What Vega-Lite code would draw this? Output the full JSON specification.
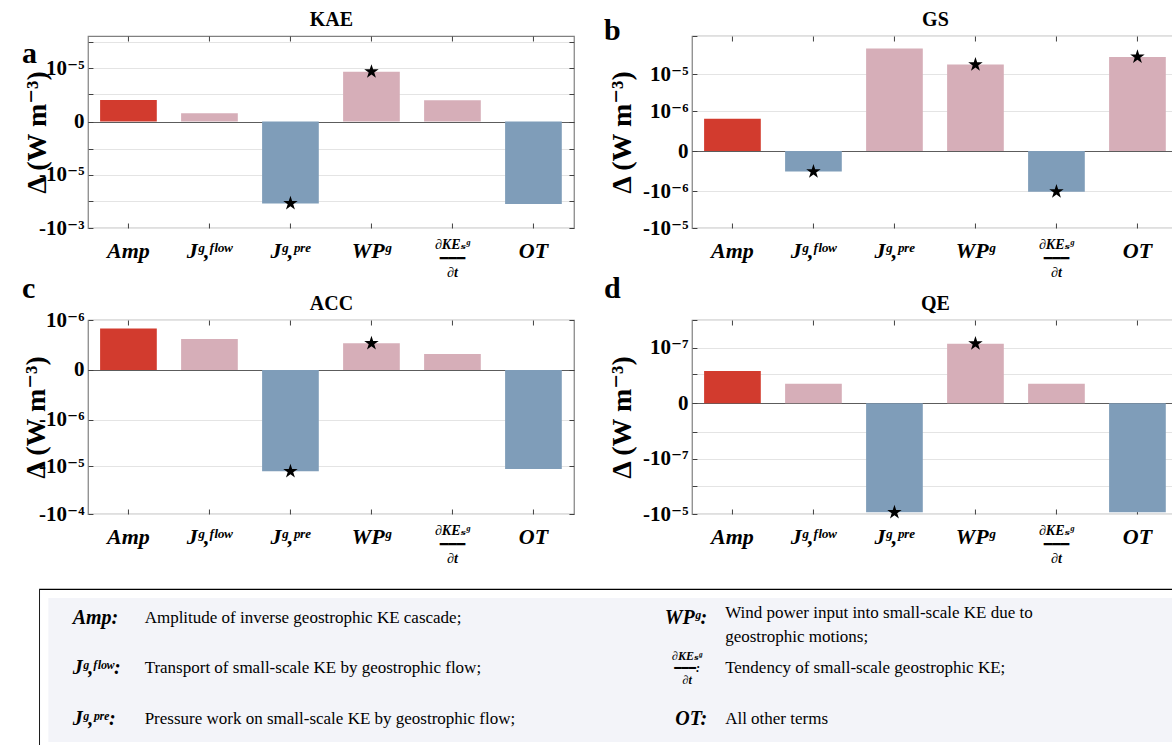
{
  "$schema": "https://vega.github.io/schema/vega-lite/v6.json",
  "background": "white",
  "padding": {"left": 21, "top": 8, "right": 0, "bottom": 0},
  "config": {
    "view": {"stroke": "#808080", "strokeWidth": 1.2},
    "font": "Liberation Serif",
    "axis": {
      "labelFont": "Liberation Serif, DejaVu Serif",
      "labelColor": "black",
      "labelFontWeight": "bold",
      "titleFont": "Liberation Serif, DejaVu Serif",
      "titleColor": "black",
      "titleFontWeight": "bold",
      "tickColor": "#404040",
      "tickSize": -5,
      "domain": false,
      "grid": false,
      "labelOverlap": false
    },
    "title": {"font": "Liberation Serif", "fontWeight": "bold", "fontSize": 30, "color": "black", "anchor": "start", "frame": "group"}
  },
  "datasets": {
    "bars": [
      {"panel": "KAE", "term": "Amp", "value": 5.5e-7, "star": false},
      {"panel": "KAE", "term": "Jᵍ,ᶠˡᵒʷ", "value": 1.07e-7, "star": false},
      {"panel": "KAE", "term": "Jᵍ,ᵖʳᵉ", "value": -1.19e-4, "star": true},
      {"panel": "KAE", "term": "WPᵍ", "value": 7.4e-6, "star": true},
      {"panel": "KAE", "term": "∂KEₛᵍ/∂t", "value": 5.35e-7, "star": false},
      {"panel": "KAE", "term": "OT", "value": -1.26e-4, "star": false},
      {"panel": "GS", "term": "Amp", "value": 6.0e-7, "star": false},
      {"panel": "GS", "term": "Jᵍ,ᶠˡᵒʷ", "value": -2.4e-7, "star": true},
      {"panel": "GS", "term": "Jᵍ,ᵖʳᵉ", "value": 4.7e-5, "star": false},
      {"panel": "GS", "term": "WPᵍ", "value": 1.8e-5, "star": true},
      {"panel": "GS", "term": "∂KEₛᵍ/∂t", "value": -1.04e-6, "star": true},
      {"panel": "GS", "term": "OT", "value": 2.84e-5, "star": true},
      {"panel": "ACC", "term": "Amp", "value": 6.3e-7, "star": false},
      {"panel": "ACC", "term": "Jᵍ,ᶠˡᵒʷ", "value": 3.4e-7, "star": false},
      {"panel": "ACC", "term": "Jᵍ,ᵖʳᵉ", "value": -1.28e-5, "star": true},
      {"panel": "ACC", "term": "WPᵍ", "value": 2.6e-7, "star": true},
      {"panel": "ACC", "term": "∂KEₛᵍ/∂t", "value": 1.15e-7, "star": false},
      {"panel": "ACC", "term": "OT", "value": -1.15e-5, "star": false},
      {"panel": "QE", "term": "Amp", "value": 1.34e-8, "star": false},
      {"panel": "QE", "term": "Jᵍ,ᶠˡᵒʷ", "value": 4.0e-9, "star": false},
      {"panel": "QE", "term": "Jᵍ,ᵖʳᵉ", "value": -8.7e-6, "star": true},
      {"panel": "QE", "term": "WPᵍ", "value": 1.39e-7, "star": true},
      {"panel": "QE", "term": "∂KEₛᵍ/∂t", "value": 4.0e-9, "star": false},
      {"panel": "QE", "term": "OT", "value": -8.7e-6, "star": false}
    ],
    "legend": [
      {"col": 0, "row": 0, "sym": "Amp:", "desc": "Amplitude of  inverse geostrophic KE cascade;"},
      {"col": 0, "row": 1, "sym": "Jᵍ,ᶠˡᵒʷ:", "desc": "Transport of small-scale KE by geostrophic flow;"},
      {"col": 0, "row": 2, "sym": "Jᵍ,ᵖʳᵉ:", "desc": "Pressure work on small-scale KE by geostrophic flow;"},
      {"col": 1, "row": 0, "sym": "WPᵍ:", "desc": "Wind power input into small-scale KE due to\ngeostrophic motions;"},
      {"col": 1, "row": 1, "sym": "∂KEₛᵍ\n━━━:\n∂t", "desc": "Tendency of small-scale geostrophic KE;"},
      {"col": 1, "row": 2, "sym": "OT:", "desc": "All other terms"}
    ]
  },
  "columns": 1,
  "center": true,
  "spacing": 22,
  "concat": [
    {
      "columns": 2,
      "bounds": "flush",
      "spacing": {"row": 92, "column": 118},
      "concat": [
        {
          "width": 486, "height": 192,
          "data": {"name": "bars"},
          "title": {"text": "a", "dx": -66, "dy": 63},
          "transform": [{"filter": "datum.panel === 'KAE'"}],
          "layer": [
            {
              "mark": {"type": "bar"},
              "encoding": {
                "x": {"field": "term", "type": "nominal", "sort": null,
                  "scale": {"domain": ["Amp", "Jᵍ,ᶠˡᵒʷ", "Jᵍ,ᵖʳᵉ", "WPᵍ", "∂KEₛᵍ/∂t", "OT"], "paddingInner": 0.3, "paddingOuter": 0.15},
                  "axis": {"orient": "bottom", "title": null, "labelAngle": 0, "labelFontStyle": "italic",
                    "labelPadding": {"condition": {"test": "indexof(datum.value, '/') > 0", "value": 14}, "value": 17},
                    "labelFontSize": {"condition": {"test": "indexof(datum.value, '/') > 0", "value": 14}, "value": 22},
                    "labelLineHeight": 14,
                    "labelExpr": "indexof(datum.value, '/') > 0 ? [split(datum.value, '/')[0], '━━━', split(datum.value, '/')[1]] : datum.value"}},
                "y": {"field": "value", "type": "quantitative",
                  "scale": {"type": "symlog", "constant": 1e-7, "domain": [-0.001, 0.000165], "nice": false, "zero": false},
                  "axis": {"orient": "left", "values": [-0.001, -0.0001, -0.00001, -0.000001, 0, 0.000001, 0.00001, 0.0001],
                    "labelExpr": "datum.value == 0.00001 ? '10⁻⁵' : datum.value == 0 ? '0' : datum.value == -0.00001 ? '-10⁻⁵' : datum.value == -0.001 ? '-10⁻³' : ''",
                    "grid": true, "gridColor": {"condition": {"test": "datum.value == 0", "value": "#5c5c5c"}, "value": "#e4e4e4"},
                    "labelPadding": 9, "labelFontSize": 21,
                    "title": "Δ (W m⁻³)", "titleFontSize": 28, "titleX": -50, "titleBaseline": "middle"}},
                "y2": {"datum": 0},
                "color": {"condition": [{"test": "datum.term === 'Amp'", "value": "#d23b2e"}, {"test": "datum.value > 0", "value": "#d6aeb8"}], "value": "#7f9db9"}
              }
            },
            {
              "transform": [{"filter": "datum.star"}],
              "mark": {"type": "point", "shape": "M0,-1L0.2245,-0.309L0.951,-0.309L0.363,0.118L0.588,0.809L0,0.382L-0.588,0.809L-0.363,0.118L-0.951,-0.309L-0.2245,-0.309Z", "filled": true, "color": "black", "size": 230, "opacity": 1},
              "encoding": {
                "x": {"field": "term", "type": "nominal", "sort": null,
                  "axis": {"orient": "top", "labels": false, "title": "KAE", "titleFontSize": 20, "titlePadding": 6}},
                "y": {"field": "value", "type": "quantitative",
                  "axis": {"orient": "right", "labels": false, "title": null, "values": [-0.001, -0.0001, -0.00001, -0.000001, 0, 0.000001, 0.00001, 0.0001]}}
              }
            }
          ],
          "resolve": {"axis": {"x": "independent", "y": "independent"}}
        },
        {
          "width": 486, "height": 192,
          "data": {"name": "bars"},
          "title": {"text": "b", "dx": -88, "dy": 40},
          "transform": [{"filter": "datum.panel === 'GS'"}],
          "layer": [
            {
              "mark": {"type": "bar"},
              "encoding": {
                "x": {"field": "term", "type": "nominal", "sort": null,
                  "scale": {"domain": ["Amp", "Jᵍ,ᶠˡᵒʷ", "Jᵍ,ᵖʳᵉ", "WPᵍ", "∂KEₛᵍ/∂t", "OT"], "paddingInner": 0.3, "paddingOuter": 0.15},
                  "axis": {"orient": "bottom", "title": null, "labelAngle": 0, "labelFontStyle": "italic",
                    "labelPadding": {"condition": {"test": "indexof(datum.value, '/') > 0", "value": 14}, "value": 17},
                    "labelFontSize": {"condition": {"test": "indexof(datum.value, '/') > 0", "value": 14}, "value": 22},
                    "labelLineHeight": 14,
                    "labelExpr": "indexof(datum.value, '/') > 0 ? [split(datum.value, '/')[0], '━━━', split(datum.value, '/')[1]] : datum.value"}},
                "y": {"field": "value", "type": "quantitative",
                  "scale": {"type": "symlog", "constant": 1e-7, "domain": [-0.00001, 0.0001], "nice": false, "zero": false},
                  "axis": {"orient": "left", "values": [-0.00001, -0.000001, 0, 0.000001, 0.00001, 0.0001],
                    "labelExpr": "datum.value == 0.00001 ? '10⁻⁵' : datum.value == 0.000001 ? '10⁻⁶' : datum.value == 0 ? '0' : datum.value == -0.000001 ? '-10⁻⁶' : datum.value == -0.00001 ? '-10⁻⁵' : ''",
                    "grid": true, "gridColor": {"condition": {"test": "datum.value == 0", "value": "#5c5c5c"}, "value": "#e4e4e4"},
                    "labelPadding": 9, "labelFontSize": 21,
                    "title": "Δ (W m⁻³)", "titleFontSize": 28, "titleX": -69, "titleBaseline": "middle"}},
                "y2": {"datum": 0},
                "color": {"condition": [{"test": "datum.term === 'Amp'", "value": "#d23b2e"}, {"test": "datum.value > 0", "value": "#d6aeb8"}], "value": "#7f9db9"}
              }
            },
            {
              "transform": [{"filter": "datum.star"}],
              "mark": {"type": "point", "shape": "M0,-1L0.2245,-0.309L0.951,-0.309L0.363,0.118L0.588,0.809L0,0.382L-0.588,0.809L-0.363,0.118L-0.951,-0.309L-0.2245,-0.309Z", "filled": true, "color": "black", "size": 230, "opacity": 1},
              "encoding": {
                "x": {"field": "term", "type": "nominal", "sort": null,
                  "axis": {"orient": "top", "labels": false, "title": "GS", "titleFontSize": 20, "titlePadding": 6}},
                "y": {"field": "value", "type": "quantitative",
                  "axis": {"orient": "right", "labels": false, "title": null, "values": [-0.00001, -0.000001, 0, 0.000001, 0.00001, 0.0001]}}
              }
            }
          ],
          "resolve": {"axis": {"x": "independent", "y": "independent"}}
        },
        {
          "width": 486, "height": 194,
          "data": {"name": "bars"},
          "title": {"text": "c", "dx": -66, "dy": 14},
          "transform": [{"filter": "datum.panel === 'ACC'"}],
          "layer": [
            {
              "mark": {"type": "bar"},
              "encoding": {
                "x": {"field": "term", "type": "nominal", "sort": null,
                  "scale": {"domain": ["Amp", "Jᵍ,ᶠˡᵒʷ", "Jᵍ,ᵖʳᵉ", "WPᵍ", "∂KEₛᵍ/∂t", "OT"], "paddingInner": 0.3, "paddingOuter": 0.15},
                  "axis": {"orient": "bottom", "title": null, "labelAngle": 0, "labelFontStyle": "italic",
                    "labelPadding": {"condition": {"test": "indexof(datum.value, '/') > 0", "value": 14}, "value": 17},
                    "labelFontSize": {"condition": {"test": "indexof(datum.value, '/') > 0", "value": 14}, "value": 22},
                    "labelLineHeight": 14,
                    "labelExpr": "indexof(datum.value, '/') > 0 ? [split(datum.value, '/')[0], '━━━', split(datum.value, '/')[1]] : datum.value"}},
                "y": {"field": "value", "type": "quantitative",
                  "scale": {"type": "symlog", "constant": 1e-7, "domain": [-0.0001, 0.000001], "nice": false, "zero": false},
                  "axis": {"orient": "left", "values": [-0.0001, -0.00001, -0.000001, 0, 0.000001],
                    "labelExpr": "datum.value == 0.000001 ? '10⁻⁶' : datum.value == 0 ? '0' : datum.value == -0.000001 ? '-10⁻⁶' : datum.value == -0.00001 ? '-10⁻⁵' : datum.value == -0.0001 ? '-10⁻⁴' : ''",
                    "grid": true, "gridColor": {"condition": {"test": "datum.value == 0", "value": "#5c5c5c"}, "value": "#e4e4e4"},
                    "labelPadding": 9, "labelFontSize": 21,
                    "title": "Δ (W m⁻³)", "titleFontSize": 28, "titleX": -51, "titleBaseline": "middle"}},
                "y2": {"datum": 0},
                "color": {"condition": [{"test": "datum.term === 'Amp'", "value": "#d23b2e"}, {"test": "datum.value > 0", "value": "#d6aeb8"}], "value": "#7f9db9"}
              }
            },
            {
              "transform": [{"filter": "datum.star"}],
              "mark": {"type": "point", "shape": "M0,-1L0.2245,-0.309L0.951,-0.309L0.363,0.118L0.588,0.809L0,0.382L-0.588,0.809L-0.363,0.118L-0.951,-0.309L-0.2245,-0.309Z", "filled": true, "color": "black", "size": 230, "opacity": 1},
              "encoding": {
                "x": {"field": "term", "type": "nominal", "sort": null,
                  "axis": {"orient": "top", "labels": false, "title": "ACC", "titleFontSize": 20, "titlePadding": 6}},
                "y": {"field": "value", "type": "quantitative",
                  "axis": {"orient": "right", "labels": false, "title": null, "values": [-0.0001, -0.00001, -0.000001, 0, 0.000001]}}
              }
            }
          ],
          "resolve": {"axis": {"x": "independent", "y": "independent"}}
        },
        {
          "width": 486, "height": 194,
          "data": {"name": "bars"},
          "title": {"text": "d", "dx": -88, "dy": 14},
          "transform": [{"filter": "datum.panel === 'QE'"}],
          "layer": [
            {
              "mark": {"type": "bar"},
              "encoding": {
                "x": {"field": "term", "type": "nominal", "sort": null,
                  "scale": {"domain": ["Amp", "Jᵍ,ᶠˡᵒʷ", "Jᵍ,ᵖʳᵉ", "WPᵍ", "∂KEₛᵍ/∂t", "OT"], "paddingInner": 0.3, "paddingOuter": 0.15},
                  "axis": {"orient": "bottom", "title": null, "labelAngle": 0, "labelFontStyle": "italic",
                    "labelPadding": {"condition": {"test": "indexof(datum.value, '/') > 0", "value": 14}, "value": 17},
                    "labelFontSize": {"condition": {"test": "indexof(datum.value, '/') > 0", "value": 14}, "value": 22},
                    "labelLineHeight": 14,
                    "labelExpr": "indexof(datum.value, '/') > 0 ? [split(datum.value, '/')[0], '━━━', split(datum.value, '/')[1]] : datum.value"}},
                "y": {"field": "value", "type": "quantitative",
                  "scale": {"type": "symlog", "constant": 1e-9, "domain": [-0.00001, 0.000001], "nice": false, "zero": false},
                  "axis": {"orient": "left", "values": [-0.00001, -0.000001, -0.0000001, -0.00000001, 0, 0.00000001, 0.0000001, 0.000001],
                    "labelExpr": "datum.value == 0.0000001 ? '10⁻⁷' : datum.value == 0 ? '0' : datum.value == -0.0000001 ? '-10⁻⁷' : datum.value == -0.00001 ? '-10⁻⁵' : ''",
                    "grid": true, "gridColor": {"condition": {"test": "datum.value == 0", "value": "#5c5c5c"}, "value": "#e4e4e4"},
                    "labelPadding": 9, "labelFontSize": 21,
                    "title": "Δ (W m⁻³)", "titleFontSize": 28, "titleX": -69, "titleBaseline": "middle"}},
                "y2": {"datum": 0},
                "color": {"condition": [{"test": "datum.term === 'Amp'", "value": "#d23b2e"}, {"test": "datum.value > 0", "value": "#d6aeb8"}], "value": "#7f9db9"}
              }
            },
            {
              "transform": [{"filter": "datum.star"}],
              "mark": {"type": "point", "shape": "M0,-1L0.2245,-0.309L0.951,-0.309L0.363,0.118L0.588,0.809L0,0.382L-0.588,0.809L-0.363,0.118L-0.951,-0.309L-0.2245,-0.309Z", "filled": true, "color": "black", "size": 230, "opacity": 1},
              "encoding": {
                "x": {"field": "term", "type": "nominal", "sort": null,
                  "axis": {"orient": "top", "labels": false, "title": "QE", "titleFontSize": 20, "titlePadding": 6}},
                "y": {"field": "value", "type": "quantitative",
                  "axis": {"orient": "right", "labels": false, "title": null, "values": [-0.00001, -0.000001, -0.0000001, -0.00000001, 0, 0.00000001, 0.0000001, 0.000001]}}
              }
            }
          ],
          "resolve": {"axis": {"x": "independent", "y": "independent"}}
        }
      ]
    },
    {
      "width": 1185, "height": 160,
      "data": {"name": "legend"},
      "view": {"stroke": "black", "strokeWidth": 2.5, "fill": "white"},
      "layer": [
        {"mark": {"type": "rect", "fill": "#f3f4f9", "stroke": "white", "strokeWidth": 16, "clip": true}, "encoding": {}},
        {
          "transform": [{"filter": "datum.col === 0"}],
          "mark": {"type": "text", "align": "left", "baseline": "middle", "dx": -264, "font": "Liberation Serif, DejaVu Serif", "fontStyle": "italic", "fontWeight": "bold", "fontSize": 20, "color": "black"},
          "encoding": {
            "x": {"field": "col", "type": "ordinal", "scale": {"type": "band", "domain": [0, 1], "paddingInner": 0, "paddingOuter": 0}, "axis": null},
            "y": {"field": "row", "type": "ordinal", "scale": {"type": "band", "domain": [0, 1, 2], "paddingInner": 0, "paddingOuter": 0.084, "align": 0.32}, "axis": null},
            "text": {"field": "sym"}
          }
        },
        {
          "transform": [{"filter": "datum.col === 1 && datum.row !== 1"}],
          "mark": {"type": "text", "align": "right", "baseline": "middle", "dx": -222, "font": "Liberation Serif, DejaVu Serif", "fontStyle": "italic", "fontWeight": "bold", "fontSize": 20, "color": "black"},
          "encoding": {
            "x": {"field": "col", "type": "ordinal", "axis": null},
            "y": {"field": "row", "type": "ordinal", "axis": null},
            "text": {"field": "sym"}
          }
        },
        {
          "transform": [{"filter": "datum.col === 1 && datum.row === 1"}],
          "mark": {"type": "text", "align": "center", "baseline": "middle", "dx": -242, "dy": -12, "font": "Liberation Serif, DejaVu Serif", "fontStyle": "italic", "fontWeight": "bold", "fontSize": 12, "lineHeight": 12, "lineBreak": "\n", "color": "black"},
          "encoding": {
            "x": {"field": "col", "type": "ordinal", "axis": null},
            "y": {"field": "row", "type": "ordinal", "axis": null},
            "text": {"field": "sym"}
          }
        },
        {
          "transform": [{"filter": "datum.col === 0"}],
          "mark": {"type": "text", "align": "left", "baseline": "middle", "dx": -192, "font": "Liberation Serif", "fontSize": 17, "color": "black"},
          "encoding": {
            "x": {"field": "col", "type": "ordinal", "axis": null},
            "y": {"field": "row", "type": "ordinal", "axis": null},
            "text": {"field": "desc"}
          }
        },
        {
          "transform": [{"filter": "datum.col === 1 && datum.row === 0"}],
          "mark": {"type": "text", "align": "left", "baseline": "middle", "dx": -204, "dy": -5, "lineBreak": "\n", "lineHeight": 24, "font": "Liberation Serif", "fontSize": 17, "color": "black"},
          "encoding": {
            "x": {"field": "col", "type": "ordinal", "axis": null},
            "y": {"field": "row", "type": "ordinal", "axis": null},
            "text": {"field": "desc"}
          }
        },
        {
          "transform": [{"filter": "datum.col === 1 && datum.row !== 0"}],
          "mark": {"type": "text", "align": "left", "baseline": "middle", "dx": -204, "font": "Liberation Serif", "fontSize": 17, "color": "black"},
          "encoding": {
            "x": {"field": "col", "type": "ordinal", "axis": null},
            "y": {"field": "row", "type": "ordinal", "axis": null},
            "text": {"field": "desc"}
          }
        }
      ]
    }
  ]
}
